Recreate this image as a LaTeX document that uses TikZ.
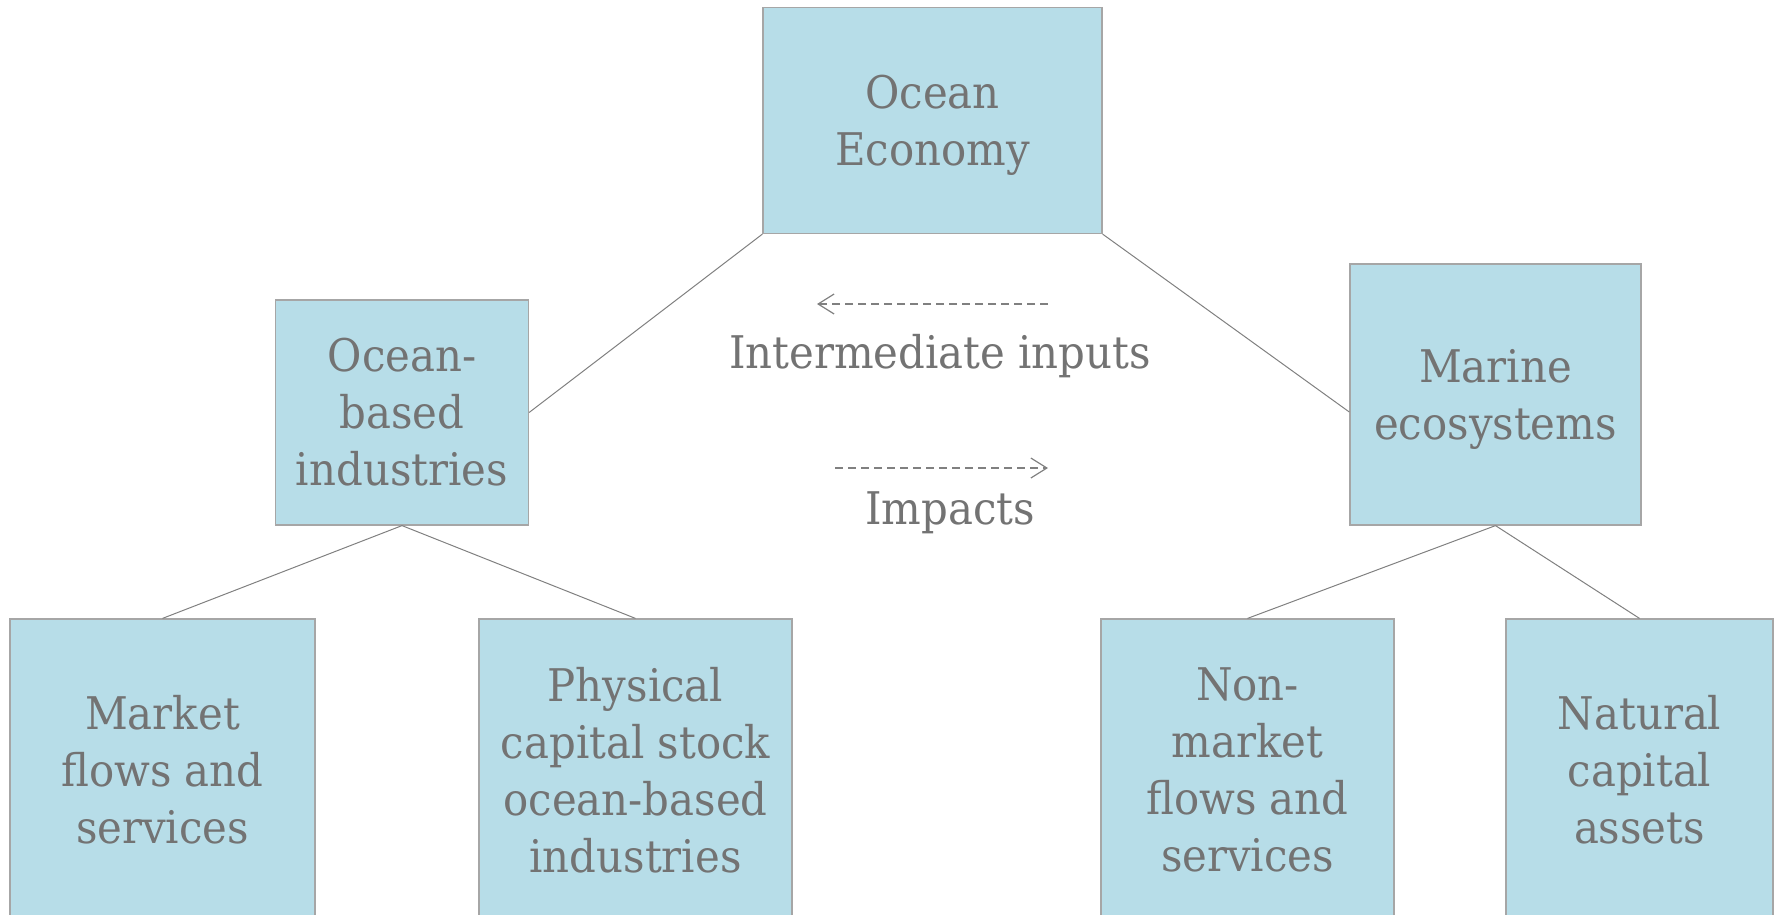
\documentclass[tikz,border=0pt]{standalone}
\usepackage{fontspec}
\setmainfont{DejaVu Serif}[FakeStretch=0.93]
\usetikzlibrary{arrows.meta,calc}
\definecolor{boxfill}{HTML}{B7DDE8}
\definecolor{boxline}{HTML}{A6A6A6}
\definecolor{txt}{HTML}{737373}
\definecolor{conn}{HTML}{808080}
\newcommand\nodp[1]{\raisebox{0pt}[\height][0pt]{#1}}
\tikzset{
  box/.style={rectangle, draw=boxline, line width=1.2pt, fill=boxfill, text=txt,
    align=center, inner sep=0pt, font=\fontsize{45pt}{57pt}\selectfont},
  link/.style={draw=conn, line width=1pt},
  flow/.style={draw=conn, line width=1.2pt, dash pattern=on 8pt off 5pt,
    -{Straight Barb[length=16pt,width=20pt,line width=1.2pt]}},
  lbl/.style={text=txt, inner sep=0pt, font=\fontsize{45pt}{57pt}\selectfont}
}
\begin{document}
\begin{tikzpicture}[x=1pt,y=-1pt]
\useasboundingbox (0,0) rectangle (1781,914);
% boxes
\node[box, minimum width=339pt, minimum height=226pt] (oe) at (932.5,120.5) {Ocean\\\nodp{Economy}};
\node[box, minimum width=253pt, minimum height=225pt] (ob) at (402,412.5) {Ocean-\\based\\industries};
\node[box, minimum width=291pt, minimum height=261pt] (me) at (1495.5,394.5) {Marine\\\nodp{ecosystems}};
\node[box, minimum width=305pt, minimum height=302pt] (mf) at (162.5,770) {Market\\flows and\\services};
\node[box, minimum width=313pt, minimum height=302pt] (pc) at (635.5,770) {Physical\\capital stock\\ocean-based\\industries};
\node[box, minimum width=293pt, minimum height=302pt] (nm) at (1247.5,770) {Non-\\market\\flows and\\services};
\node[box, minimum width=267pt, minimum height=302pt] (nc) at (1639.5,770) {Natural\\capital\\assets};
% connectors
\coordinate (meW) at ($(me.south west)!0.433!(me.north west)$);
\draw[link] (oe.south west) -- (ob.east);
\draw[link] (oe.south east) -- (meW);
\draw[link] (ob.south) -- (mf.north);
\draw[link] (ob.south) -- (pc.north);
\draw[link] (me.south) -- (nm.north);
\draw[link] (me.south) -- (nc.north);
% flows
\coordinate (iiR) at (1048,304);
\coordinate (iiL) at (817,304);
\coordinate (imL) at (835,468);
\coordinate (imR) at (1048,468);
\draw[flow] (iiR) -- (iiL);
\draw[flow] (imL) -- (imR);
\node[lbl] (ii) at (940,356) {Intermediate inputs};
\node[lbl] (im) at (950,513) {Impacts};
\end{tikzpicture}
\end{document}
